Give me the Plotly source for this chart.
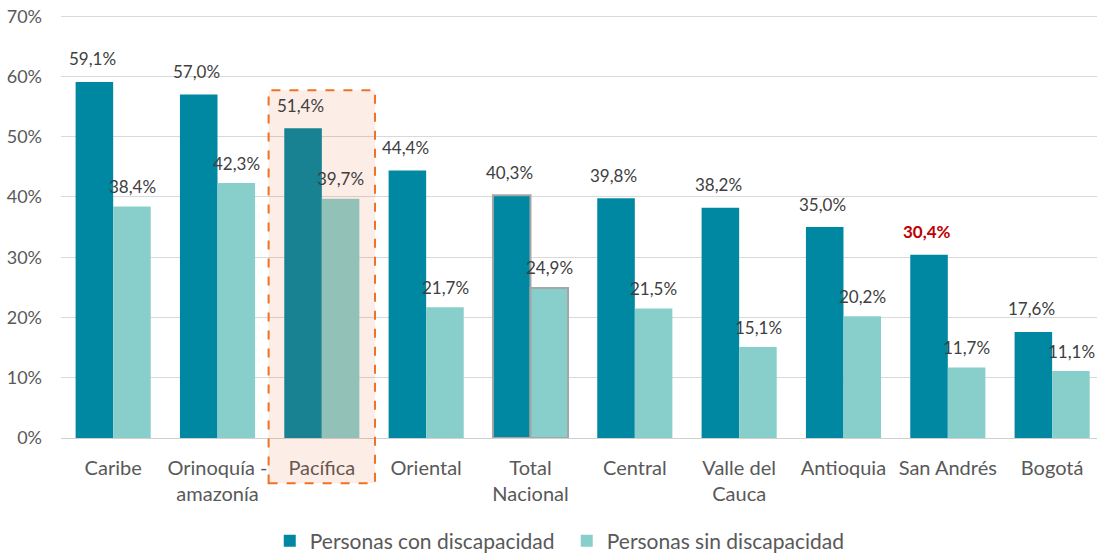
import plotly.graph_objects as go

categories = ["Caribe", "Orinoquía -<br>amazonía", "Pacífica", "Oriental", "Total<br>Nacional",
              "Central", "Valle del<br>Cauca", "Antioquia", "San Andrés", "Bogotá"]
con_disc = [59.1, 57.0, 51.4, 44.4, 40.3, 39.8, 38.2, 35.0, 30.4, 17.6]
sin_disc = [38.4, 42.3, 39.7, 21.7, 24.9, 21.5, 15.1, 20.2, 11.7, 11.1]
y_ticks = [0, 10, 20, 30, 40, 50, 60, 70]
y_tick_labels = ["0%", "10%", "20%", "30%", "40%", "50%", "60%", "70%"]

DARK = "#0088A2"
LIGHT = "#88CFCB"
FONT = "Lato"
TXT = "#404040"

def fmt(v):
    return f"{v:.1f}%".replace(".", ",")

x_idx = list(range(len(categories)))
line_w = [2 if c.startswith("Total") else 0 for c in categories]
line_c = ["#A6A6A6" for _ in categories]

fig = go.Figure()
fig.add_bar(x=x_idx, y=con_disc, name="Personas con discapacidad", marker_color=DARK,
            marker_line_width=line_w, marker_line_color=line_c)
fig.add_bar(x=x_idx, y=sin_disc, name="Personas sin discapacidad", marker_color=LIGHT,
            marker_line_width=line_w, marker_line_color=line_c)

ann = []
for i, (a, b) in enumerate(zip(con_disc, sin_disc)):
    red = categories[i] == "San Andrés"
    ann.append(dict(x=i, y=a, text=(f"<b>{fmt(a)}</b>" if red else fmt(a)), showarrow=False,
                    xshift=-21, yshift=23, yanchor="middle",
                    font=dict(family=FONT, size=17, color="#C00000" if red else TXT)))
    ann.append(dict(x=i, y=b, text=fmt(b), showarrow=False, xshift=19, yshift=20, yanchor="middle",
                    font=dict(family=FONT, size=17, color=TXT)))

pac = categories.index("Pacífica")
shapes = [dict(type="rect", xref="x", yref="paper", x0=pac - 0.51, x1=pac + 0.51, y0=-0.107, y1=0.822,
               fillcolor="rgba(240,80,20,0.1)", line=dict(color="#F07028", width=2, dash="dash"),
               layer="above")]

fig.update_layout(
    width=1098, height=556,
    margin=dict(l=61, r=1, t=15, b=118, autoexpand=False),
    plot_bgcolor="white", paper_bgcolor="white",
    barmode="group", bargap=0.28, bargroupgap=0,
    font=dict(family=FONT, size=16, color="#595959"),
    annotations=ann, shapes=shapes,
    legend=dict(orientation="h", x=0.2015, xanchor="left", y=-0.244, yanchor="middle",
                font=dict(family=FONT, size=21, color="#595959"), traceorder="normal",
                itemwidth=30, entrywidth=252),
    showlegend=True,
)
fig.update_xaxes(tickmode="array", tickvals=x_idx, ticktext=categories, range=[-0.5, 9.43],
                 showline=True, linecolor="#D0D0D0", linewidth=1, ticks="", tickfont=dict(size=20),
                 automargin=False, ticklabelstandoff=12)
fig.update_yaxes(range=[0, 70.2], tickvals=y_ticks, ticktext=y_tick_labels, showgrid=True,
                 gridcolor="#D9D9D9", gridwidth=1, zeroline=False, ticks="", tickfont=dict(size=18),
                 automargin=False, ticklabelstandoff=18, ticklabeloverflow="allow")

# remove the default 8px page margin so the figure sits at the window origin
fig.write_html("out.html", config={"displayModeBar": False},
               post_script="document.body.style.margin='0px';")
